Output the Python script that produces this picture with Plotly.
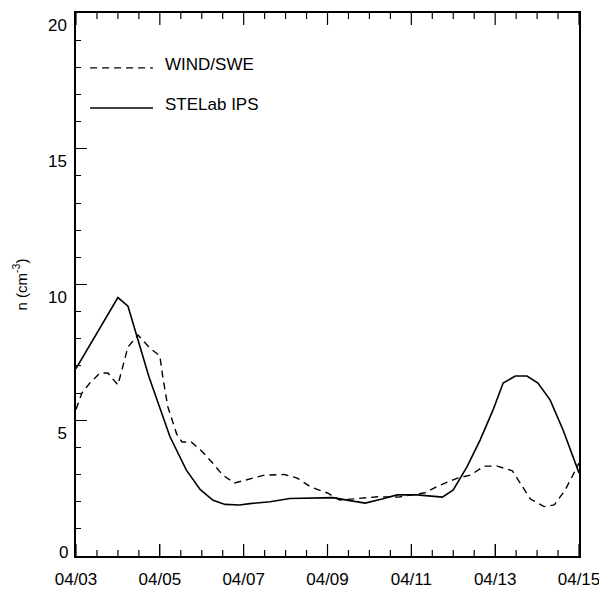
import plotly.graph_objects as go

# Day of April (fractional) and number density n (cm^-3)
ips_day = [3.0, 3.64, 4.0, 4.24, 4.74, 5.24, 5.63, 5.96, 6.27, 6.56, 6.9, 7.15, 7.63, 8.1,
           8.6, 9.13, 9.5, 9.9, 10.3, 10.66, 11.14, 11.74, 12.0, 12.33, 12.64, 12.95,
           13.19, 13.48, 13.76, 14.02, 14.31, 14.62, 15.0]
ips_n = [6.9, 8.58, 9.52, 9.2, 6.6, 4.4, 3.17, 2.45, 2.05, 1.9, 1.88, 1.93, 2.0, 2.12,
         2.14, 2.15, 2.05, 1.95, 2.1, 2.25, 2.25, 2.17, 2.43, 3.29, 4.27, 5.38,
         6.37, 6.63, 6.63, 6.37, 5.75, 4.64, 3.06]

swe_day = [3.0, 3.14, 3.33, 3.57, 3.76, 4.0, 4.24, 4.48, 4.76, 5.0, 5.07, 5.19, 5.4,
           5.53, 5.75, 6.02, 6.24, 6.5, 6.78, 7.07, 7.5, 7.97, 8.28, 8.6, 9.0, 9.29,
           9.8, 10.2, 10.69, 11.33, 11.64, 12.1, 12.41, 12.74, 13.05, 13.41, 13.6,
           13.84, 14.17, 14.41, 14.67, 15.0]
swe_n = [5.4, 6.0, 6.37, 6.74, 6.74, 6.3, 7.7, 8.14, 7.66, 7.37, 6.6, 5.5, 4.5,
         4.2, 4.2, 3.83, 3.46, 2.98, 2.69, 2.8, 2.98, 3.0, 2.87, 2.54, 2.32, 2.06,
         2.13, 2.18, 2.17, 2.33, 2.58, 2.87, 2.98, 3.31, 3.31, 3.14, 2.68,
         2.1, 1.82, 1.88, 2.43, 3.42]

x_tickvals = [3, 5, 7, 9, 11, 13, 15]
x_ticktext = ["04/03", "04/05", "04/07", "04/09", "04/11", "04/13", "04/15"]
y_tickvals = [0, 5, 10, 15, 20]
y_ticktext = ["0", "5", "10", "15", "20"]
legend_names = ["WIND/SWE", "STELab IPS"]

font = "Liberation Sans, Arial, sans-serif"

fig = go.Figure()
fig.add_trace(go.Scatter(x=swe_day, y=swe_n, mode="lines", name=legend_names[0],
                         line=dict(color="black", width=1.4, dash="7px,5px"),
                         showlegend=False))
fig.add_trace(go.Scatter(x=ips_day, y=ips_n, mode="lines", name=legend_names[1],
                         line=dict(color="black", width=1.6), showlegend=False))

# x-axis tick marks (major every 2 days, minor every half day) on bottom and top,
# placed in data coordinates along x from the tick lists
x_minorvals = [a + f * (b - a) for a, b in zip(x_tickvals[:-1], x_tickvals[1:])
               for f in (0.25, 0.5, 0.75)]
major_len, minor_len = 0.022, 0.011   # fraction of plot height
for vals, ln in ((x_tickvals, major_len), (x_minorvals, minor_len)):
    for v in vals:
        fig.add_shape(type="line", xref="x", yref="paper", x0=v, x1=v, y0=0, y1=ln,
                      line=dict(color="black", width=1.2), layer="above")
        fig.add_shape(type="line", xref="x", yref="paper", x0=v, x1=v, y0=1, y1=1 - ln,
                      line=dict(color="black", width=1.2), layer="above")

# manual legend (line samples + text) in paper coordinates
legend_line_y = [0.899, 0.825]
legend_text_y = [0.905, 0.832]
legend_dash = ["7px,5px", "solid"]
for ly, ty, dsh, name in zip(legend_line_y, legend_text_y, legend_dash, legend_names):
    fig.add_shape(type="line", xref="paper", yref="paper", x0=0.028, x1=0.153,
                  y0=ly, y1=ly, line=dict(color="black", width=1.4, dash=dsh))
    fig.add_annotation(xref="paper", yref="paper", x=0.172, y=ty, text=name,
                       showarrow=False, xanchor="left", yanchor="middle",
                       font=dict(family=font, size=17, color="black"))

# "0" label of the y axis sits just above the corner, as in the original
fig.add_annotation(xref="paper", yref="y", x=0, y=y_tickvals[0], text=y_ticktext[0],
                   showarrow=False, xanchor="right", yanchor="middle", xshift=-6, yshift=4,
                   font=dict(family=font, size=17, color="black"))

fig.update_layout(
    template="none",
    width=607, height=597,
    margin=dict(l=68, r=36, t=5, b=49, autoexpand=False),
    paper_bgcolor="white", plot_bgcolor="white",
    font=dict(family=font, color="black"),
)
fig.update_xaxes(
    type="linear", range=[3, 15], tickmode="linear", tick0=x_tickvals[0],
    dtick=x_tickvals[1] - x_tickvals[0],
    ticks="inside", ticklen=12, tickwidth=1.2, tickcolor="black",
    showline=True, linecolor="black", linewidth=1.5, mirror=True,
    showgrid=False, zeroline=False, automargin=False, ticklabelstandoff=7,
    labelalias={str(v): t for v, t in zip(x_tickvals, x_ticktext)},
    tickfont=dict(family=font, size=17, color="black"),
)
fig.update_yaxes(
    range=[0, 20], tickmode="array", tickvals=y_tickvals,
    ticktext=[("" if v == 0 else t) for v, t in zip(y_tickvals, y_ticktext)],
    ticks="inside", ticklen=11, tickwidth=1.2, tickcolor="black",
    minor=dict(dtick=1, tick0=0, ticks="inside", ticklen=5, tickwidth=1.2,
               tickcolor="black", showgrid=False),
    ticklabelposition="outside bottom", ticklabelstandoff=4,
    showline=True, linecolor="black", linewidth=1.5, mirror=True,
    showgrid=False, zeroline=False,
    tickfont=dict(family=font, size=17, color="black"), automargin=False,
    title=dict(text="n (cm<sup>-3</sup>)", font=dict(family=font, size=15, color="black"),
               standoff=17),
)

fig.write_html("out.html")
